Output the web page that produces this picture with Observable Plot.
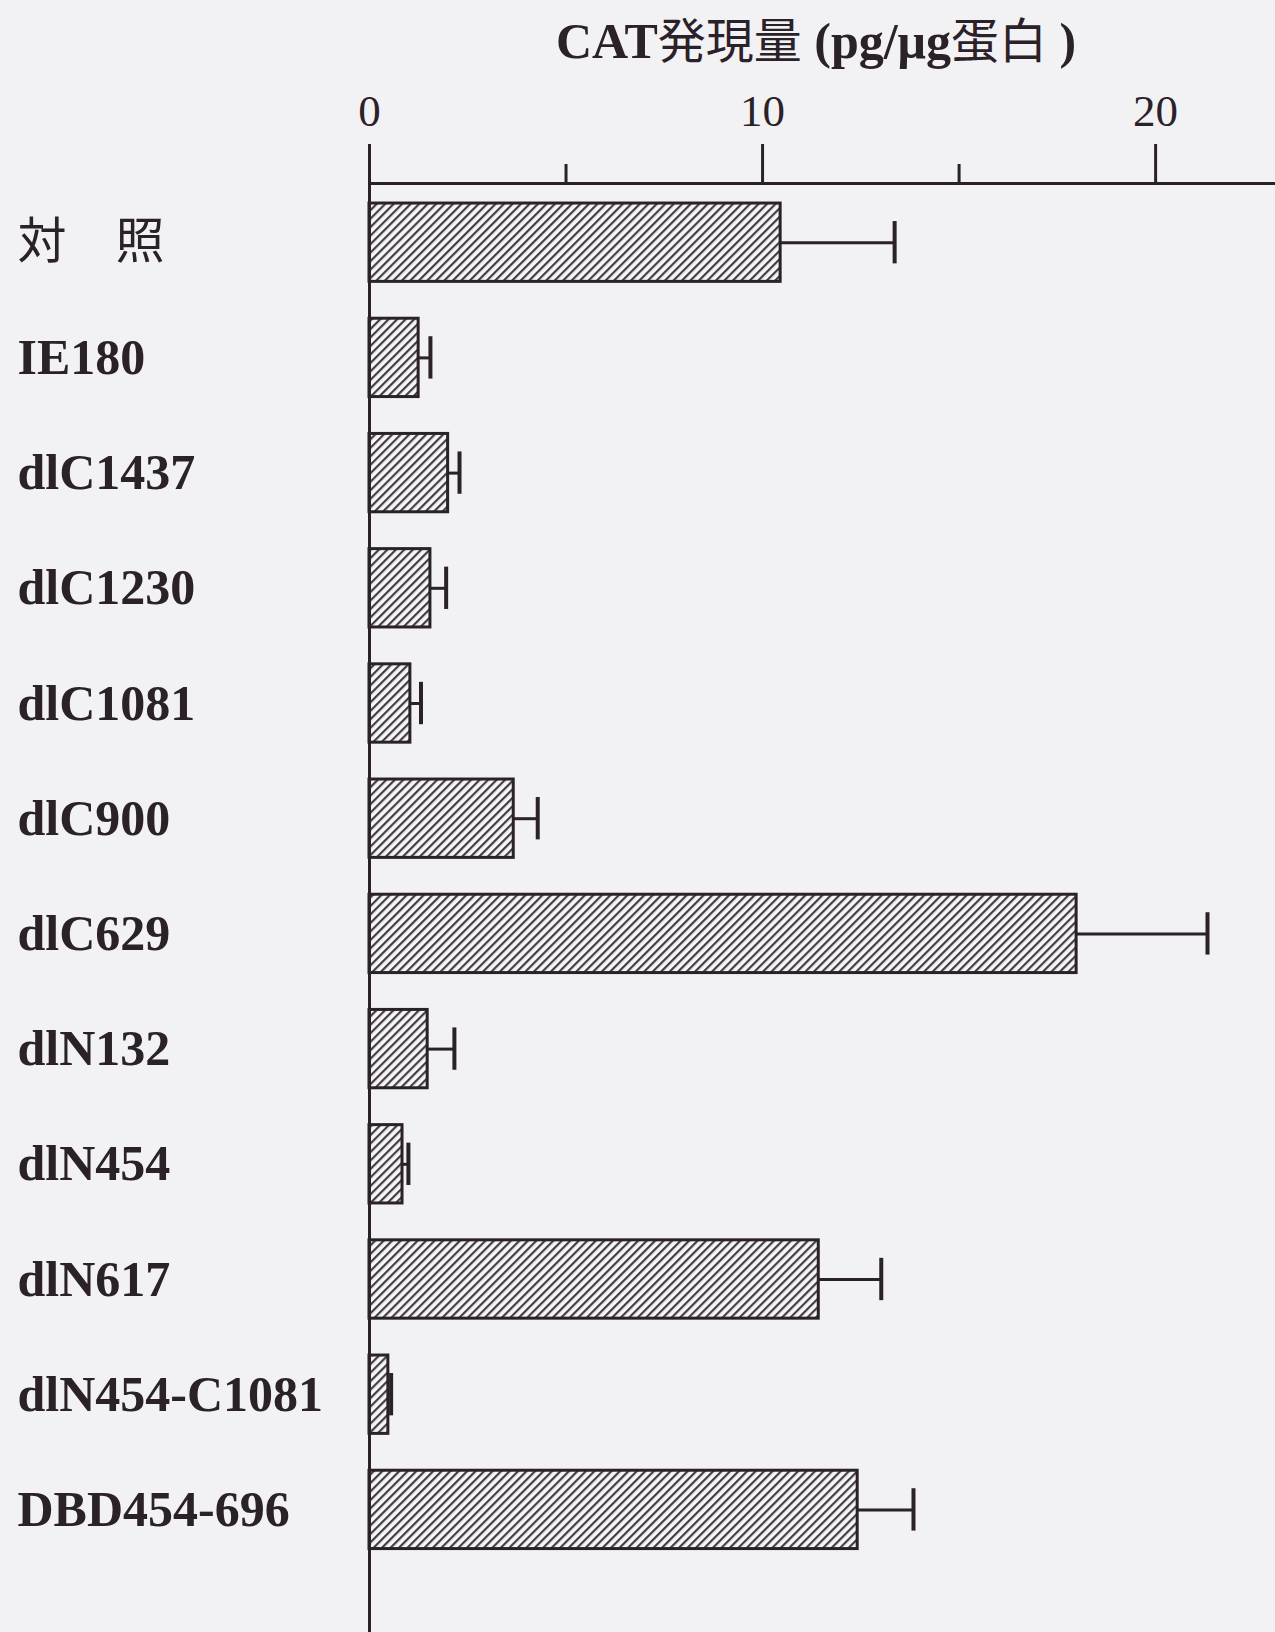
<!DOCTYPE html>
<html>
<head>
<meta charset="utf-8">
<script src="https://cdn.jsdelivr.net/npm/d3@7"></script>
<script src="https://cdn.jsdelivr.net/npm/@observablehq/plot@0.6"></script>
<style>
  html, body { margin: 0; padding: 0; background: #f2f1f3; }
  #title {
    box-sizing: border-box;
    width: 1275px; height: 70px;
    padding-left: 357px; padding-top: 8px;
    text-align: center;
    font-family: "Liberation Serif", "Noto Sans CJK JP", serif;
    font-weight: bold; font-size: 50px; line-height: 58px;
    color: #2a2129; white-space: nowrap;
  }
  #title .cjk { font-family: "Noto Sans CJK JP", sans-serif; font-weight: normal; font-size: 48px; }
  svg { display: block; }
</style>
</head>
<body>
<div id="title">CAT<span class="cjk">発現量</span> (pg/μg<span class="cjk">蛋白</span> )</div>
<div id="chart"></div>
<script>
// ---- data ----
const names = ["対　照", "IE180", "dlC1437", "dlC1230", "dlC1081", "dlC900", "dlC629", "dlN132", "dlN454", "dlN617", "dlN454-C1081", "DBD454-696"];
const values = [10.46, 1.25, 2.0, 1.55, 1.04, 3.67, 17.99, 1.48, 0.84, 11.43, 0.48, 12.42];
const errors = [2.90, 0.30, 0.29, 0.40, 0.27, 0.61, 3.33, 0.68, 0.15, 1.59, 0.07, 1.42];
const majorTicks = [0, 10, 20];
const minorTicks = [5, 15];

const data = names.map((name, i) => ({name, value: values[i], err: errors[i]}));

const ink = "#2a2129";
const serif = "'Liberation Serif', 'Times New Roman', 'Noto Sans CJK JP', serif";

const chart = Plot.plot({
  width: 1275,
  height: 1562,
  marginTop: 113,
  marginLeft: 369,
  marginRight: 0,
  marginBottom: 0,
  style: {background: "transparent", color: ink, fontFamily: serif, overflow: "visible"},
  x: {domain: [0, 23.05], axis: null},
  y: {domain: names, range: [114.6, 1497], paddingInner: 0.32, paddingOuter: 0.16, round: false, axis: null},
  marks: [
    Plot.barX(data, {x: "value", y: "name", fill: "url(#hatch)", stroke: ink, strokeWidth: 3}),
    Plot.ruleY(data, {y: "name", x1: "value", x2: d => d.value + d.err, stroke: ink, strokeWidth: 3}),
    Plot.tickX(data, {x: d => d.value + d.err, y: "name", stroke: ink, strokeWidth: 4, insetTop: 18, insetBottom: 18}),
    Plot.ruleX([0], {stroke: ink, strokeWidth: 3}),
    Plot.frame({anchor: "top", stroke: ink, strokeWidth: 3}),
    Plot.axisX({anchor: "top", ticks: majorTicks, tickSize: 40, tickPadding: 18, tickFormat: d => String(d),
      label: null, fontSize: 45, stroke: ink, strokeWidth: 3, fill: ink, strokeOpacity: 1}),
    Plot.axisX({anchor: "top", ticks: minorTicks, tickSize: 20, text: null, label: null,
      stroke: ink, strokeWidth: 3, strokeOpacity: 1}),
    Plot.axisY({anchor: "left", tickSize: 0, tickPadding: 0, textAnchor: "start", dx: -352, label: null,
      fontSize: 50, fontWeight: "bold", fill: ink})
  ]
});

// hatch pattern for bar fill
const svg = d3.select(chart);
const defs = svg.insert("defs", ":first-child");
const pat = defs.append("pattern")
  .attr("id", "hatch")
  .attr("patternUnits", "userSpaceOnUse")
  .attr("width", 6).attr("height", 6)
  .attr("patternTransform", "rotate(45)");
pat.append("rect").attr("width", 6).attr("height", 6).attr("fill", "#f6f5f7");
pat.append("line").attr("x1", 1).attr("y1", 0).attr("x2", 1).attr("y2", 6)
  .attr("stroke", "#453d45").attr("stroke-width", 2.4);

// the control label is set in a plain (non-bold) CJK face
svg.selectAll("text").filter(function() { return /[\u3000-\u9fff]/.test(this.textContent); })
  .attr("font-weight", "normal")
  .attr("font-family", "'Noto Sans CJK JP', sans-serif")
  .attr("font-size", 49);

document.getElementById("chart").appendChild(chart);
</script>
</body>
</html>
